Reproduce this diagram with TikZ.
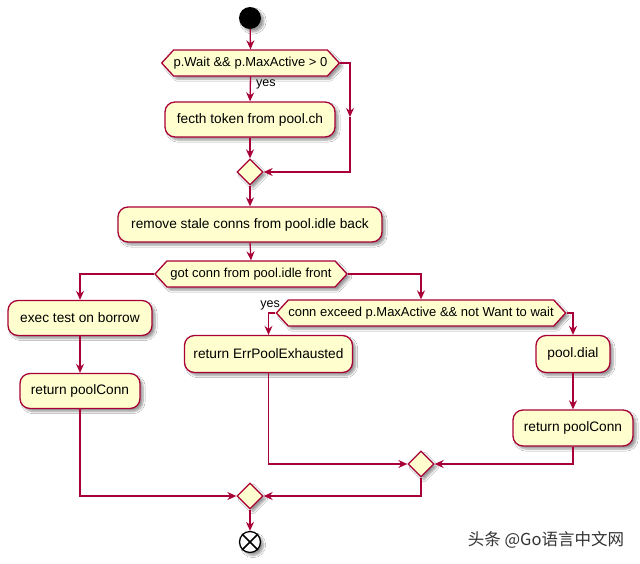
\documentclass[tikz,border=0pt]{standalone}
\usepackage{fontspec}
\setmainfont{Liberation Sans}
\newfontfamily\cjk{Noto Sans CJK SC}
\usetikzlibrary{shapes.geometric,shapes.symbols,arrows.meta,shadows.blur}
\definecolor{pumlfill}{HTML}{FEFECE}
\definecolor{pumlline}{HTML}{A80036}
\tikzset{
  shad/.style={blur shadow={shadow xshift=3pt,shadow yshift=-3pt,shadow blur steps=6,shadow opacity=40}},
  actbox/.style={rectangle,rounded corners=10pt,draw=pumlline,line width=1.3pt,fill=pumlfill,shad,
     font=\fontsize{13.7}{16}\selectfont,inner sep=0pt},
  hexbox/.style={signal,signal to=west and east,signal pointer angle=95,draw=pumlline,line width=1.3pt,
     fill=pumlfill,shad,font=\fontsize{13}{15}\selectfont,inner sep=0pt,minimum height=26pt},
  merge/.style={diamond,draw=pumlline,line width=1.3pt,fill=pumlfill,shad,inner sep=0pt,minimum size=26pt},
  flow/.style={draw=pumlline,line width=1.3pt,-{Stealth[length=9pt,width=8pt,inset=3pt]}},
  lbl/.style={font=\fontsize{12.5}{14}\selectfont,inner sep=0pt},
}
\begin{document}
\begin{tikzpicture}[x=1pt,y=-1pt]
\useasboundingbox (0,0) rectangle (640,563);
\fill[white] (0,0) rectangle (640,563);

\node[circle,fill=black,minimum size=22pt,inner sep=0pt,shad] (start) at (250,18) {};
\node[hexbox,minimum width=175pt] (h1) at (250.5,63) {p.Wait \&\& p.MaxActive > 0};
\node[actbox,minimum width=170pt,minimum height=35pt] (b1) at (250,119.5) {fecth token from pool.ch};
\node[merge] (d1) at (250,172) {};
\coordinate (r1) at (350,117);
\node[actbox,minimum width=264pt,minimum height=35pt] (b2) at (250,224.5) {remove stale conns from pool.idle back};
\node[hexbox,minimum width=192pt] (h2) at (251,274) {got conn from pool.idle front};
\node[actbox,minimum width=144pt,minimum height=35pt] (b3) at (80,318) {exec test on borrow};
\node[actbox,minimum width=120pt,minimum height=35pt] (b4) at (80,391) {return poolConn};
\node[hexbox,minimum width=282pt] (h3) at (421,313) {conn exceed p.MaxActive \&\& not Want to wait};
\node[actbox,minimum width=168pt,minimum height=37pt] (b5) at (268.5,354) {return ErrPoolExhausted};
\node[actbox,minimum width=74pt,minimum height=37pt] (b6) at (573,354) {pool.dial};
\node[actbox,minimum width=120pt,minimum height=36pt] (b7) at (573,428) {return poolConn};
\node[merge] (d2) at (421,464) {};
\node[merge] (d3) at (250,496) {};
\node[circle,draw=black,line width=1.3pt,fill=white,minimum size=21pt,inner sep=0pt,shad] (stop) at (250,542) {};
\draw[line width=1.6pt] (stop.45) -- (stop.225);
\draw[line width=1.6pt] (stop.135) -- (stop.315);

\node[lbl,anchor=west] (yes1) at (256,84) {yes};
\node[lbl,anchor=east] (yes2) at (280,305) {yes};

\draw[flow] (start) -- (h1.north);
\draw[flow] (h1.south) -- (b1.north);
\draw[flow] (h1.east) -| (r1);
\draw[flow] (r1) |- (d1.east);
\draw[flow] (b1.south) -- (d1.north);
\draw[flow] (d1.south) -- (b2.north);
\draw[flow] (b2.south) -- (h2.north);
\draw[flow] (h2.west) -| (b3.north);
\draw[flow] (b3.south) -- (b4.north);
\draw[flow] (h2.east) -| (h3.north);
\draw[flow] (h3.west) -| (b5.north);
\draw[flow] (h3.east) -| (b6.north);
\draw[flow] (b6.south) -- (b7.north);
\draw[flow] (b5.south) |- (d2.west);
\draw[flow] (b7.south) |- (d2.east);
\draw[flow] (b4.south) |- (d3.west);
\draw[flow] (d2.south) |- (d3.east);
\draw[flow] (d3.south) -- (stop.north);

\node[font=\cjk\fontsize{16.5}{18}\selectfont,text=black!80] (wm) at (546,540) {头条 @Go语言中文网};
\end{tikzpicture}
\end{document}
